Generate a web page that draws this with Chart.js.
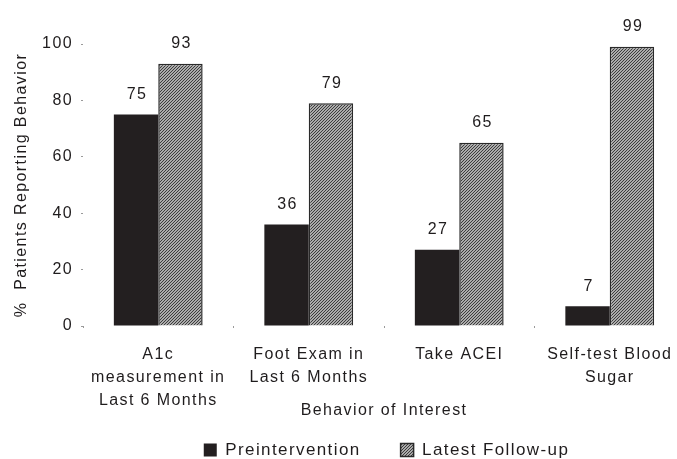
<!DOCTYPE html>
<html>
<head>
<meta charset="utf-8">
<script src="https://cdn.jsdelivr.net/npm/chart.js@4/dist/chart.umd.min.js"></script>
<style>
  html, body { margin: 0; padding: 0; background: #fff; overflow: hidden; }
  #wrap { width: 677px; height: 459px; overflow: hidden; position: relative; }
  #chart { display: block; }
</style>
</head>
<body>
<div id="wrap"><canvas id="chart" width="768" height="479"></canvas></div>
<script>
// Survey results: share of patients reporting each behavior
const categories = [
  ['A1c', 'measurement in', 'Last 6 Months'],
  ['Foot Exam in', 'Last 6 Months'],
  ['Take ACEI'],
  ['Self-test Blood', 'Sugar']
];
const preintervention = [75, 36, 27, 7];
const latestFollowUp = [93, 79, 65, 99];
const yTicks = [0, 20, 40, 60, 80, 100];

const INK = '#1f1c1d';
const FONT = '"Liberation Sans", Arial, Helvetica, sans-serif';
const SPACING = '1.4px';

// Fine diagonal hatch used for the follow-up bars
function makeHatch() {
  const c = document.createElement('canvas');
  c.width = 3; c.height = 3;
  const g = c.getContext('2d');
  g.fillStyle = '#ababab';
  g.fillRect(0, 0, 3, 3);
  g.strokeStyle = '#3c3c3c';
  g.lineWidth = 1;
  g.beginPath();
  g.moveTo(-1, 4); g.lineTo(4, -1);
  g.moveTo(-1, 1); g.lineTo(1, -1);
  g.moveTo(2, 4); g.lineTo(4, 2);
  g.stroke();
  return g.createPattern(c, 'repeat');
}
const hatch = makeHatch();

// Slightly tracked lettering across the whole chart
const tracking = {
  id: 'tracking',
  beforeUpdate(chart) { chart.ctx.letterSpacing = SPACING; },
  beforeLayout(chart) { chart.ctx.letterSpacing = SPACING; },
  beforeDraw(chart) { chart.ctx.letterSpacing = SPACING; }
};

// Legend sits a little higher, tucked under the axis title, centred on the plot
const legendPlacement = {
  id: 'legendPlacement',
  afterLayout(chart) {
    const lg = chart.legend;
    if (!lg) return;
    lg.top -= 10.5; lg.bottom -= 10.5;
    lg.left += 44; lg.right += 44;
  }
};

// Value printed above each bar
const valueLabels = {
  id: 'valueLabels',
  afterDatasetsDraw(chart) {
    const ctx = chart.ctx;
    ctx.save();
    ctx.letterSpacing = SPACING;
    ctx.font = '16px ' + FONT;
    ctx.fillStyle = INK;
    ctx.textAlign = 'center';
    ctx.textBaseline = 'middle';
    chart.data.datasets.forEach((ds, i) => {
      chart.getDatasetMeta(i).data.forEach((bar, j) => {
        ctx.fillText(String(ds.data[j]), bar.x + 1, bar.y - 20);
      });
    });
    ctx.restore();
  }
};

new Chart(document.getElementById('chart'), {
  type: 'bar',
  data: {
    labels: categories,
    datasets: [
      {
        label: 'Preintervention',
        data: preintervention,
        backgroundColor: '#231f20',
        borderWidth: 0,
        categoryPercentage: 0.59,
        barPercentage: 1
      },
      {
        label: 'Latest Follow-up',
        data: latestFollowUp,
        backgroundColor: hatch,
        borderColor: '#2a2a2a',
        borderWidth: 1.5,
        categoryPercentage: 0.59,
        barPercentage: 1
      }
    ]
  },
  options: {
    responsive: false,
    animation: false,
    devicePixelRatio: 1,
    layout: { padding: { top: 44, right: 83, left: 0, bottom: 0 } },
    plugins: {
      tooltip: { enabled: false },
      legend: {
        position: 'bottom',
        labels: {
          color: INK,
          font: { family: FONT, size: 17 },
          boxWidth: 13,
          boxHeight: 13,
          padding: 40
        }
      }
    },
    scales: {
      x: {
        grid: {
          display: true,
          drawOnChartArea: false,
          drawTicks: true,
          tickLength: 2,
          tickColor: '#9a9a9a',
          tickWidth: 1
        },
        border: { display: false },
        ticks: {
          color: INK,
          font: { family: FONT, size: 16, lineHeight: 1.45 },
          padding: 15,
          maxRotation: 0,
          autoSkip: false
        },
        title: {
          display: true,
          text: 'Behavior of Interest',
          color: INK,
          font: { family: FONT, size: 16 },
          padding: { top: 0, bottom: -8 }
        },
        afterFit(scale) { scale.height = 86; }
      },
      y: {
        min: 0,
        max: 100,
        afterBuildTicks(scale) { scale.ticks = yTicks.map(v => ({ value: v })); },
        grid: {
          display: true,
          drawOnChartArea: false,
          drawTicks: true,
          tickLength: 2,
          tickColor: '#9a9a9a',
          tickWidth: 1
        },
        border: { display: false },
        ticks: {
          color: INK,
          font: { family: FONT, size: 16 },
          padding: 8
        },
        title: {
          display: true,
          text: '%  Patients Reporting Behavior',
          color: INK,
          font: { family: FONT, size: 16 },
          padding: { top: 12, bottom: 0 }
        },
        afterFit(scale) { scale.width = 83; }
      }
    }
  },
  plugins: [tracking, legendPlacement, valueLabels]
});
</script>
</body>
</html>
